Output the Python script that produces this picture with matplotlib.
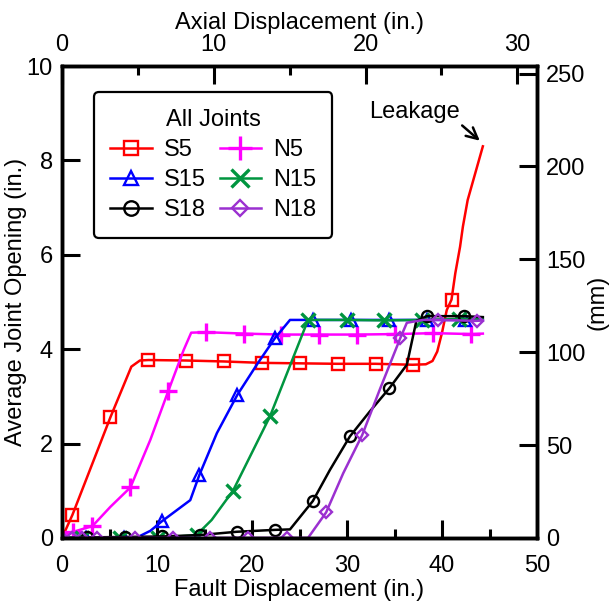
import numpy as np
import matplotlib
matplotlib.use("Agg")
import matplotlib.pyplot as plt

plt.rcParams['font.family'] = ['Liberation Sans', 'DejaVu Sans']
plt.rcParams['font.size'] = 17

# fault displacement (in.) vs average joint opening (in.)
s5_x = [0, 1.1, 5.1, 7.3, 8.2, 9.1, 13.05, 17.0, 21.0, 25.0, 29.0, 33.0, 36.9, 38.3, 39.0,
        39.5, 40.0, 40.5, 41.0, 41.4, 41.9, 42.2, 42.7, 43.5, 44.3]
s5_y = [0, 0.49, 2.56, 3.63, 3.76, 3.77, 3.76, 3.74, 3.71, 3.70, 3.69, 3.69, 3.67, 3.68, 3.75,
        3.95, 4.35, 4.83, 5.05, 5.61, 6.17, 6.6, 7.16, 7.73, 8.3]

n5_x = [0, 1.2, 3.2, 5.1, 7.2, 9.3, 11.2, 12.8, 13.6, 15.2, 19.2, 23.1, 27.1, 31.1, 35.1,
        39.1, 43.1, 44.3]
n5_y = [0, 0.13, 0.25, 0.66, 1.07, 2.08, 3.12, 3.98, 4.35, 4.36, 4.33, 4.31, 4.31, 4.31, 4.32,
        4.34, 4.32, 4.33]

s15_x = [0, 2.5, 6.5, 7.9, 9.3, 10.5, 13.5, 14.45, 16.3, 18.45, 20.5, 22.4, 24.0, 26.4, 30.4,
         34.4, 38.4, 42.4, 44.3]
s15_y = [0, 0, 0, 0.01, 0.15, 0.35, 0.8, 1.33, 2.22, 3.03, 3.67, 4.23, 4.62, 4.62, 4.62,
         4.62, 4.62, 4.62, 4.62]

n15_x = [0, 2.1, 6.1, 10.1, 14.2, 14.5, 15.75, 18.0, 21.9, 25.9, 30.0, 33.9, 37.9, 41.8, 44.3]
n15_y = [0, 0, 0, 0, 0.06, 0.13, 0.38, 1.0, 2.58, 4.62, 4.62, 4.61, 4.62, 4.64, 4.65]

s18_x = [0, 2.6, 6.6, 10.5, 14.5, 18.4, 22.4, 24.0, 26.4, 28.2, 30.3, 32.4, 34.45, 36.3, 37.3,
         38.4, 42.35, 44.3]
s18_y = [0, 0.01, 0.02, 0.03, 0.06, 0.13, 0.17, 0.18, 0.78, 1.44, 2.15, 2.68, 3.17, 3.67, 4.6,
         4.7, 4.7, 4.68]

n18_x = [0, 1.0, 2.1, 3.7, 7.7, 11.7, 15.6, 19.6, 23.65, 25.9, 27.8, 29.6, 31.6, 33.5, 35.6,
         36.3, 38.0, 39.6, 43.65, 44.3]
n18_y = [0, 0, 0, 0, 0, 0, 0, 0, 0, 0, 0.54, 1.37, 2.18, 3.17, 4.23,
         4.56, 4.62, 4.62, 4.6, 4.61]

fig = plt.figure(figsize=(6.14, 6.01), dpi=100)
ax = fig.add_axes([0.101, 0.105, 0.7736, 0.785])

mk = dict(markersize=8, markerfacecolor='none', markeredgewidth=1.7, linewidth=1.8)
l_s5, = ax.plot(s5_x, s5_y, color='#ff0000', marker='s', label='S5',
                markevery=[1, 2, 5, 6, 7, 8, 9, 10, 11, 12, 18], **mk)
l_n5, = ax.plot(n5_x, n5_y, color='#ff00ff', marker='+', label='N5',
                markevery=[1, 2, 4, 6, 9, 10, 11, 12, 13, 14, 15, 16], markersize=13,
                markeredgewidth=2.4, linewidth=1.8)
l_s15, = ax.plot(s15_x, s15_y, color='#0000ff', marker='^', label='S15',
                 markevery=[1, 2, 5, 7, 9, 11, 13, 14, 15, 16, 17], **mk)
l_n15, = ax.plot(n15_x, n15_y, color='#00953f', marker='x', label='N15',
                 markevery=[1, 2, 3, 4, 7, 8, 9, 10, 11, 12, 13], markersize=10,
                 markeredgewidth=2.4, linewidth=1.8)
l_s18, = ax.plot(s18_x, s18_y, color='black', marker='o', label='S18',
                 markevery=[1, 2, 3, 4, 5, 6, 8, 10, 12, 15, 16], **mk)
l_n18, = ax.plot(n18_x, n18_y, color='#9b30d0', marker='D', label='N18',
                 markevery=[0, 1, 2, 3, 4, 5, 6, 7, 8, 10, 12, 14, 17, 18], markersize=6.5,
                 markerfacecolor='none', markeredgewidth=1.7, linewidth=1.8)

ax.set_xlim(0, 50)
ax.set_ylim(0, 10)
ax.set_xticks(np.arange(0, 51, 10))
ax.set_xticks(np.arange(5, 50, 10), minor=True)
ax.set_yticks(np.arange(0, 11, 2))
ax.set_xlabel('Fault Displacement (in.)', labelpad=2)
ax.set_ylabel('Average Joint Opening (in.)', labelpad=0)
ax.tick_params(axis='both', which='major', direction='in', length=13, width=2.2)
ax.tick_params(axis='both', which='minor', direction='in', length=6.5, width=2.2)
ax.tick_params(axis='x', which='both', pad=12)
ax.tick_params(axis='y', pad=6.5)
for sp in ax.spines.values():
    sp.set_linewidth(2.4)

axt = ax.twiny()
axt.set_xlim(0, 31.3)
axt.set_xticks([0, 10, 20, 30])
axt.set_xticks([5, 15, 25], minor=True)
axt.set_xlabel('Axial Displacement (in.)', labelpad=4)
axt.tick_params(axis='x', which='major', direction='in', length=13, width=2.2, pad=7)
axt.tick_params(axis='x', which='minor', direction='in', length=6.5, width=2.2)

axr = ax.twinx()
axr.set_ylim(0, 254)
axr.set_yticks(np.arange(0, 251, 50))
axr.set_ylabel('(mm)', labelpad=1)
axr.tick_params(axis='y', direction='in', length=13, width=2.2, pad=6.5)
for a in (axt, axr):
    for sp in a.spines.values():
        sp.set_linewidth(2.4)

ax.text(41.9, 9.03, 'Leakage', ha='right', va='center')
ax.annotate('', xy=(44.2, 8.38), xytext=(41.9, 8.78),
            arrowprops=dict(arrowstyle='->', color='black', lw=1.8, mutation_scale=20))

leg = ax.legend(handles=[l_s5, l_s15, l_s18, l_n5, l_n15, l_n18], ncol=2, title='All Joints',
                loc='upper left', bbox_to_anchor=(0.067, 0.945), borderaxespad=0,
                borderpad=0.7, handlelength=1.75, handletextpad=0.5, columnspacing=0.6,
                labelspacing=0.35, markerscale=1.3, framealpha=1, fancybox=True,
                title_fontsize=17)
leg.get_frame().set_edgecolor('black')
leg.get_frame().set_linewidth(1.6)

fig.savefig('out.png', dpi=100)
